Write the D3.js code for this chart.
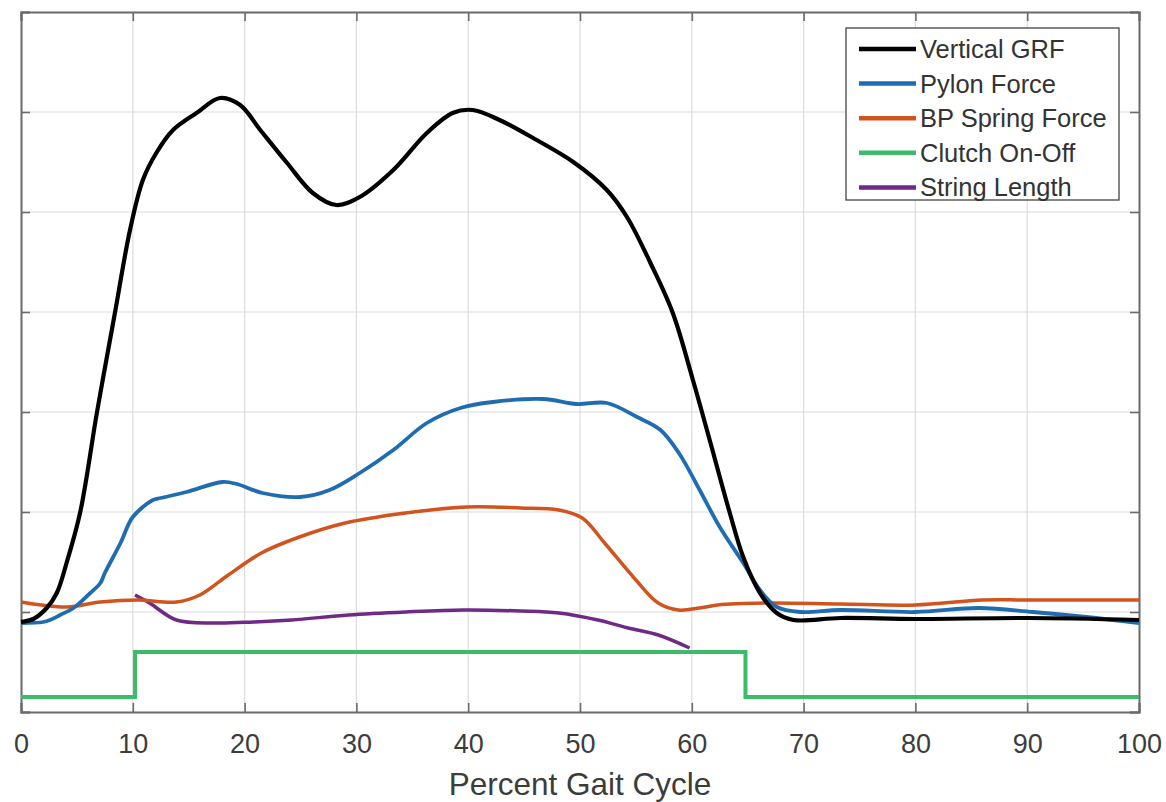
<!DOCTYPE html>
<html>
<head>
<meta charset="utf-8">
<script src="https://cdn.jsdelivr.net/npm/d3@7"></script>
<style>
  html, body { margin: 0; padding: 0; background: #fff; }
  svg { display: block; font-family: "Liberation Sans", Arial, Helvetica, sans-serif; }
</style>
</head>
<body>
<svg id="chart" width="1166" height="802"></svg>
<script>
// ---- Data ----
const xTicks = [0, 10, 20, 30, 40, 50, 60, 70, 80, 90, 100];
const yTicks = [0, 1, 2, 3, 4, 5, 6, 7];

const grfX = [0, 1.1, 2.3, 3.2, 4.1, 5.3, 6.8, 8.4, 9.75, 10.9, 12.1, 13.6, 15.7, 17.8, 19.6, 21.4, 23.8, 26.1, 28.2, 30.3, 33.3, 36.3, 38.6, 40.4, 42.8, 45.8, 49.4, 52.4, 54.2, 56.3, 58.3, 60.1, 61.6, 63.4, 64.6, 66.1, 67.6, 69.1, 73.3, 80, 90, 100];
const grfY = [0.90, 0.93, 1.04, 1.19, 1.50, 2.00, 3.00, 3.99, 4.82, 5.32, 5.59, 5.82, 5.99, 6.14, 6.07, 5.82, 5.49, 5.19, 5.07, 5.15, 5.42, 5.79, 5.99, 6.02, 5.92, 5.74, 5.50, 5.22, 4.95, 4.49, 3.99, 3.32, 2.72, 1.99, 1.55, 1.19, 0.99, 0.92, 0.94, 0.93, 0.94, 0.92];

const pylonX = [0, 2, 2.6, 3.5, 4.7, 6.2, 7.1, 7.5, 8.9, 10, 11.8, 12.5, 14.8, 18, 19.3, 21.6, 25, 27.6, 30.3, 33.3, 36.3, 39.3, 42.2, 46.7, 49.7, 52.4, 55.1, 57.2, 58.9, 60.7, 62.5, 64.6, 66.1, 67.6, 69.7, 73.3, 80, 85.7, 90.5, 95.3, 100];
const pylonY = [0.89, 0.90, 0.92, 0.97, 1.04, 1.19, 1.29, 1.39, 1.69, 1.95, 2.12, 2.14, 2.20, 2.30, 2.28, 2.19, 2.15, 2.22, 2.39, 2.62, 2.89, 3.04, 3.10, 3.13, 3.08, 3.09, 2.95, 2.82, 2.58, 2.22, 1.85, 1.49, 1.22, 1.05, 1.00, 1.02, 1.00, 1.04, 1.00, 0.95, 0.89];

const springX = [0, 4.1, 7.1, 10.5, 13.9, 16, 18.3, 21.5, 24.9, 29, 34.4, 39.9, 44.7, 48.1, 50.2, 52.2, 55, 57, 58.8, 60.7, 62.3, 66.7, 73.3, 80, 86, 90, 100];
const springY = [1.10, 1.05, 1.10, 1.12, 1.10, 1.17, 1.35, 1.59, 1.75, 1.89, 1.99, 2.05, 2.04, 2.02, 1.94, 1.69, 1.32, 1.09, 1.02, 1.04, 1.07, 1.09, 1.08, 1.07, 1.12, 1.12, 1.12];

const clutchX = [0, 10.2, 64.8, 100];
const clutchY = [0.15, 0.60, 0.15, 0.15];

const stringX = [10.2, 11.5, 13.9, 17.3, 20.8, 24.2, 29.3, 34.4, 39.6, 44.7, 48.1, 51.6, 54.3, 57, 59.8];
const stringY = [1.17, 1.09, 0.92, 0.89, 0.90, 0.92, 0.97, 1.00, 1.02, 1.01, 0.99, 0.92, 0.84, 0.77, 0.64];

const seriesNames = ["Vertical GRF", "Pylon Force", "BP Spring Force", "Clutch On-Off", "String Length"];
const seriesColors = ["#000000", "#1f6db0", "#d1531d", "#3dbb6a", "#6e2a85"];
const xLabel = "Percent Gait Cycle";

// ---- Layout ----
const svg = d3.select("#chart");
const pLeft = 21, pRight = 1139, pTop = 12, pBottom = 712;
const x = d3.scaleLinear().domain([0, 100]).range([pLeft, pRight]);
const y = d3.scaleLinear().domain([0, 7]).range([pBottom, pTop]);

// Grid
const grid = svg.append("g");
grid.selectAll("line.vx").data(xTicks.slice(1, -1)).join("line")
  .attr("x1", d => x(d)).attr("x2", d => x(d)).attr("y1", pTop).attr("y2", pBottom)
  .attr("stroke", "#dcdcdc").attr("stroke-width", 1.2);
grid.selectAll("line.hy").data(yTicks.slice(1, -1)).join("line")
  .attr("x1", pLeft).attr("x2", pRight).attr("y1", d => y(d)).attr("y2", d => y(d))
  .attr("stroke", "#dcdcdc").attr("stroke-width", 1.2);

// Axes (MATLAB-like inward ticks)
const axColor = "#6a6a6a";
const xAxisB = d3.axisBottom(x).tickValues(xTicks).tickSize(-9).tickPadding(22).tickFormat(d3.format("d"));
const gxb = svg.append("g").attr("transform", `translate(0,${pBottom})`).call(xAxisB);
const xAxisT = d3.axisTop(x).tickValues(xTicks).tickSize(-9).tickFormat("");
const gxt = svg.append("g").attr("transform", `translate(0,${pTop})`).call(xAxisT);
const yAxisL = d3.axisLeft(y).tickValues(yTicks).tickSize(-9).tickFormat("");
const gyl = svg.append("g").attr("transform", `translate(${pLeft},0)`).call(yAxisL);
const yAxisR = d3.axisRight(y).tickValues(yTicks).tickSize(-9).tickFormat("");
const gyr = svg.append("g").attr("transform", `translate(${pRight},0)`).call(yAxisR);
[gxb, gxt, gyl, gyr].forEach(g => {
  g.select(".domain").attr("stroke", axColor).attr("stroke-width", 2);
  g.selectAll(".tick line").attr("stroke", axColor).attr("stroke-width", 1.6);
});
gxb.selectAll(".tick text")
  .attr("fill", "#3c3c3c").attr("font-size", 27)
  .attr("font-family", "'Liberation Sans', Arial, sans-serif");

// X label
svg.append("text").attr("x", x(50)).attr("y", 795)
  .attr("text-anchor", "middle").attr("font-size", 31.5).attr("fill", "#3c3c3c")
  .text(xLabel);

// Lines
const line = d3.line().x(d => x(d[0])).y(d => y(d[1])).curve(d3.curveCatmullRom.alpha(0.5));
const stepLine = d3.line().x(d => x(d[0])).y(d => y(d[1])).curve(d3.curveStepAfter);
const zip = (a, b) => a.map((v, i) => [v, b[i]]);

const plot = svg.append("g");
plot.append("path").datum(zip(clutchX, clutchY)).attr("d", stepLine)
  .attr("fill", "none").attr("stroke", seriesColors[3]).attr("stroke-width", 4);
plot.append("path").datum(zip(stringX, stringY)).attr("d", line)
  .attr("fill", "none").attr("stroke", seriesColors[4]).attr("stroke-width", 3.5);
plot.append("path").datum(zip(springX, springY)).attr("d", line)
  .attr("fill", "none").attr("stroke", seriesColors[2]).attr("stroke-width", 3.5);
plot.append("path").datum(zip(pylonX, pylonY)).attr("d", line)
  .attr("fill", "none").attr("stroke", seriesColors[1]).attr("stroke-width", 3.8);
plot.append("path").datum(zip(grfX, grfY)).attr("d", line)
  .attr("fill", "none").attr("stroke", seriesColors[0]).attr("stroke-width", 4.2);

// Legend
const lg = svg.append("g");
lg.append("rect").attr("x", 846).attr("y", 28).attr("width", 273).attr("height", 172)
  .attr("fill", "#fff").attr("stroke", "#444").attr("stroke-width", 1.3);
seriesNames.forEach((name, i) => {
  const cy = 49 + i * 34.6;
  lg.append("line").attr("x1", 859).attr("x2", 916).attr("y1", cy).attr("y2", cy)
    .attr("stroke", seriesColors[i]).attr("stroke-width", 4.5);
  lg.append("text").attr("x", 920).attr("y", cy).attr("dy", "0.35em")
    .attr("font-size", 25.5).attr("fill", "#333").text(name);
});
</script>
</body>
</html>
